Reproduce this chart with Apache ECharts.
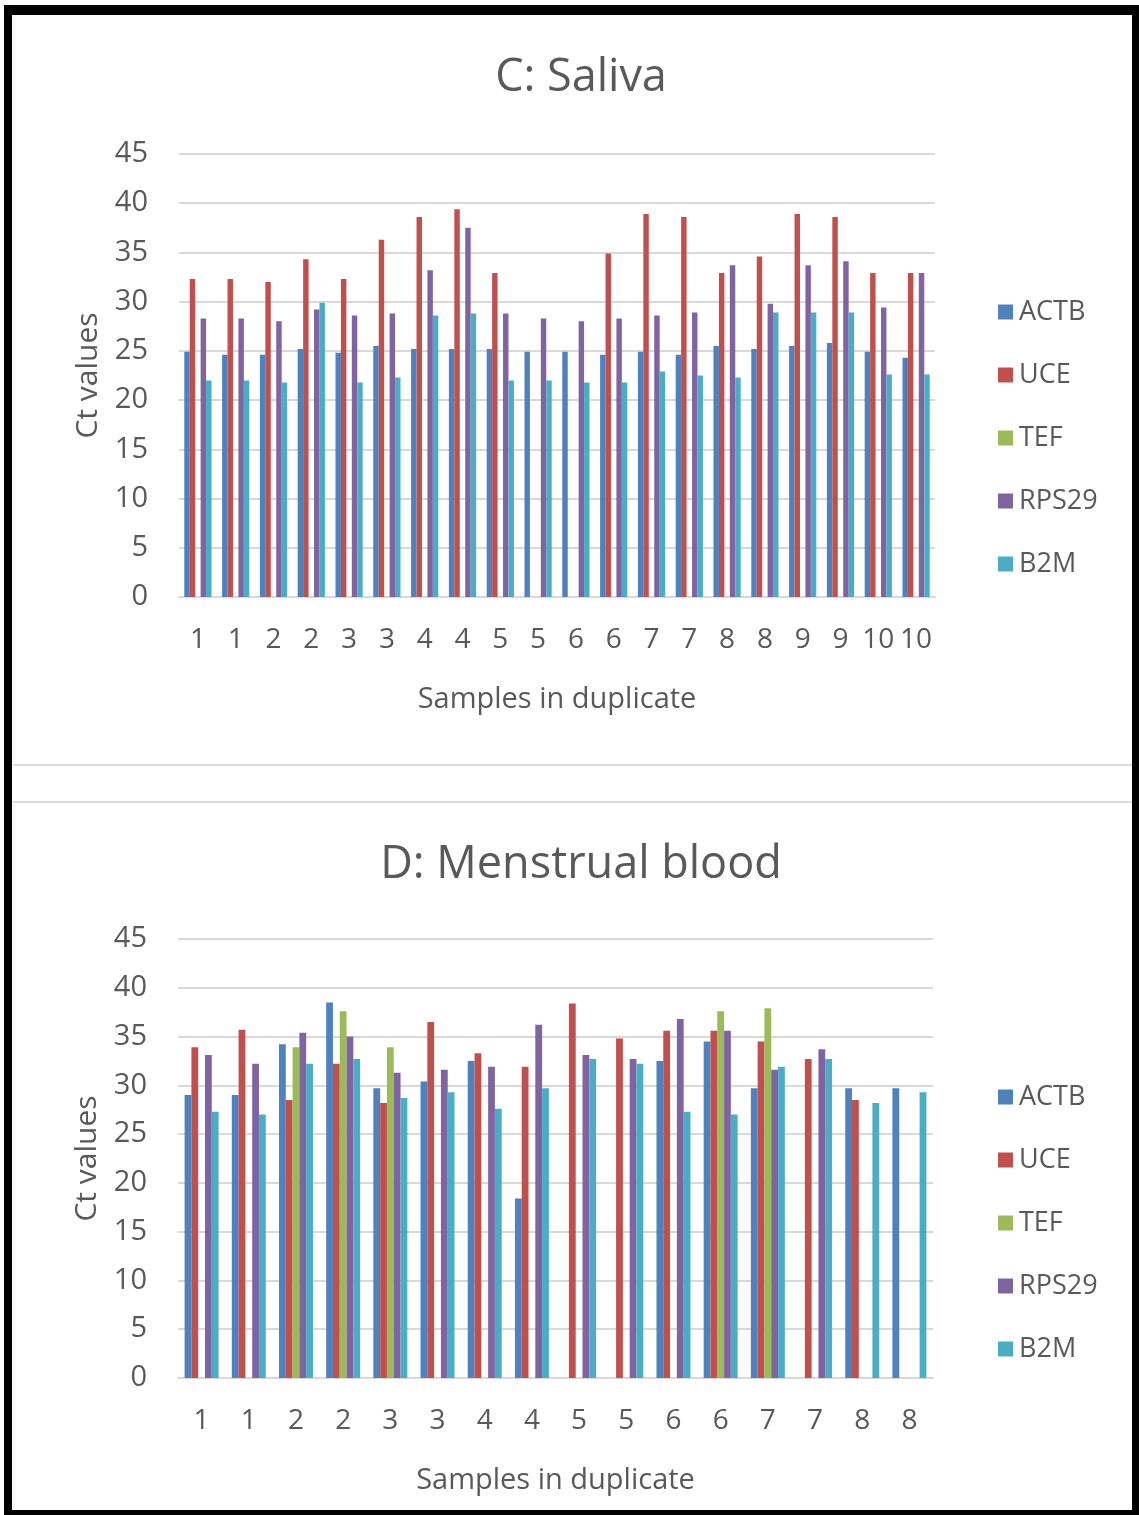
<!DOCTYPE html>
<html>
<head>
<meta charset="utf-8">
<title>Ct values: Saliva and Menstrual blood</title>
<script src="https://cdn.jsdelivr.net/npm/echarts@6/dist/echarts.min.js"></script>
<style>
  html, body { margin: 0; padding: 0; background: #ffffff; }
  #frame {
    position: absolute; left: 4px; top: 5px; width: 1135px; height: 1510px;
    box-sizing: border-box;
    border-left: 8px solid #000; border-top: 10px solid #000;
    border-right: 7px solid #000; border-bottom: 5px solid #000;
  }
  #chart { position: absolute; left: 0; top: 0; width: 1139px; height: 1515px; }
</style>
</head>
<body>
<div id="frame"></div>
<div id="chart"></div>
<script>
// Reference genes shown in both panels
const genes = ['ACTB', 'UCE', 'TEF', 'RPS29', 'B2M'];
const geneColors = ['#4f81bd', '#c0504d', '#9bbb59', '#8064a2', '#4bacc6'];

// Panel C: saliva, 10 samples run in duplicate
const salivaSamples = ['1','1','2','2','3','3','4','4','5','5','6','6','7','7','8','8','9','9','10','10'];
const salivaACTB  = [24.9, 24.6, 24.6, 25.2, 24.8, 25.5, 25.2, 25.2, 25.2, 24.9, 24.9, 24.6, 24.9, 24.6, 25.5, 25.2, 25.5, 25.8, 24.9, 24.3];
const salivaUCE   = [32.3, 32.3, 32.0, 34.3, 32.3, 36.3, 38.6, 39.4, 32.9, null, null, 34.9, 38.9, 38.6, 32.9, 34.6, 38.9, 38.6, 32.9, 32.9];
const salivaTEF   = [null, null, null, null, null, null, null, null, null, null, null, null, null, null, null, null, null, null, null, null];
const salivaRPS29 = [28.3, 28.3, 28.0, 29.2, 28.6, 28.8, 33.2, 37.5, 28.8, 28.3, 28.0, 28.3, 28.6, 28.9, 33.7, 29.8, 33.7, 34.1, 29.4, 32.9];
const salivaB2M   = [22.0, 22.0, 21.8, 29.9, 21.8, 22.3, 28.6, 28.8, 22.0, 22.0, 21.8, 21.8, 22.9, 22.5, 22.3, 28.9, 28.9, 28.9, 22.6, 22.6];

// Panel D: menstrual blood, 8 samples run in duplicate
const bloodSamples = ['1','1','2','2','3','3','4','4','5','5','6','6','7','7','8','8'];
const bloodACTB  = [29.0, 29.0, 34.2, 38.5, 29.7, 30.4, 32.5, 18.4, null, null, 32.5, 34.5, 29.7, null, 29.7, 29.7];
const bloodUCE   = [33.9, 35.7, 28.5, 32.2, 28.2, 36.5, 33.3, 31.9, 38.4, 34.8, 35.6, 35.6, 34.5, 32.7, 28.5, null];
const bloodTEF   = [null, null, 33.9, 37.6, 33.9, null, null, null, null, null, null, 37.6, 37.9, null, null, null];
const bloodRPS29 = [33.1, 32.2, 35.4, 35.0, 31.3, 31.6, 31.9, 36.2, 33.1, 32.7, 36.8, 35.6, 31.6, 33.7, null, null];
const bloodB2M   = [27.3, 27.0, 32.2, 32.7, 28.7, 29.3, 27.6, 29.7, 32.7, 32.2, 27.3, 27.0, 31.9, 32.7, 28.2, 29.3];

// Value axis ticks
const ctMin = 0, ctMax = 45, ctStep = 5;

const salivaSeriesData = [salivaACTB, salivaUCE, salivaTEF, salivaRPS29, salivaB2M];
const bloodSeriesData  = [bloodACTB, bloodUCE, bloodTEF, bloodRPS29, bloodB2M];

const FONT = '"Open Sans", "Noto Sans", sans-serif';
const TEXT = '#595959';
const GRID_LINE = '#d9d9d9';

function xAxisFor(idx, cats) {
  return {
    type: 'category', gridIndex: idx, data: cats,
    axisTick: { show: false },
    axisLine: { lineStyle: { color: GRID_LINE, width: 2 } },
    axisLabel: { color: TEXT, fontFamily: FONT, fontSize: 28, margin: 29, interval: 0 },
    name: 'Samples in duplicate', nameLocation: 'middle', nameGap: 88,
    nameTextStyle: { color: TEXT, fontFamily: FONT, fontSize: 29 }
  };
}
function yAxisFor(idx) {
  return {
    type: 'value', gridIndex: idx, min: ctMin, max: ctMax, interval: ctStep,
    axisLine: { show: false }, axisTick: { show: false },
    splitLine: { lineStyle: { color: GRID_LINE, width: 2 } },
    axisLabel: { color: TEXT, fontFamily: FONT, fontSize: 29, margin: 31 },
    name: 'Ct values', nameLocation: 'middle', nameGap: 76, nameRotate: 90,
    nameTextStyle: { color: TEXT, fontFamily: FONT, fontSize: 30 }
  };
}
function barsFor(idx, seriesData) {
  return genes.map((g, i) => ({
    name: g, type: 'bar', xAxisIndex: idx, yAxisIndex: idx,
    data: seriesData[i],
    itemStyle: { color: geneColors[i] },
    barGap: '0%', barCategoryGap: '28%',
    emphasis: { disabled: true }
  }));
}
function legendFor(top) {
  return {
    orient: 'vertical', left: 993, top: top,
    data: genes, icon: 'rect', itemWidth: 15, itemHeight: 15,
    itemGap: 33,
    textStyle: { color: TEXT, fontFamily: FONT, fontSize: 27, lineHeight: 30, padding: [0, 0, 0, 1] },
    selectedMode: false
  };
}

const chart = echarts.init(document.getElementById('chart'));
chart.setOption({
  animation: false,
  color: geneColors,
  title: [
    { text: 'C: Saliva', left: 576, top: 51, textAlign: 'center',
      textStyle: { color: TEXT, fontFamily: FONT, fontSize: 45, fontWeight: 'normal' } },
    { text: 'D: Menstrual blood', left: 576, top: 838, textAlign: 'center',
      textStyle: { color: TEXT, fontFamily: FONT, fontSize: 45, fontWeight: 'normal' } }
  ],
  legend: [legendFor(292), legendFor(1077)],
  grid: [
    { left: 179, top: 154, width: 756, height: 443 },
    { left: 178, top: 939, width: 755, height: 439 }
  ],
  xAxis: [xAxisFor(0, salivaSamples), xAxisFor(1, bloodSamples)],
  yAxis: [yAxisFor(0), yAxisFor(1)],
  series: barsFor(0, salivaSeriesData).concat(barsFor(1, bloodSeriesData)),
  graphic: [
    { type: 'line', shape: { x1: 13, y1: 765, x2: 1132, y2: 765 }, style: { stroke: '#dcdcdc', lineWidth: 2 } },
    { type: 'line', shape: { x1: 13, y1: 802, x2: 1132, y2: 802 }, style: { stroke: '#dcdcdc', lineWidth: 2 } },
    { type: 'line', shape: { x1: 14, y1: 15, x2: 14, y2: 765 }, style: { stroke: '#ececec', lineWidth: 1 } },
    { type: 'line', shape: { x1: 14, y1: 802, x2: 14, y2: 1510 }, style: { stroke: '#ececec', lineWidth: 1 } }
  ]
});
</script>
</body>
</html>
